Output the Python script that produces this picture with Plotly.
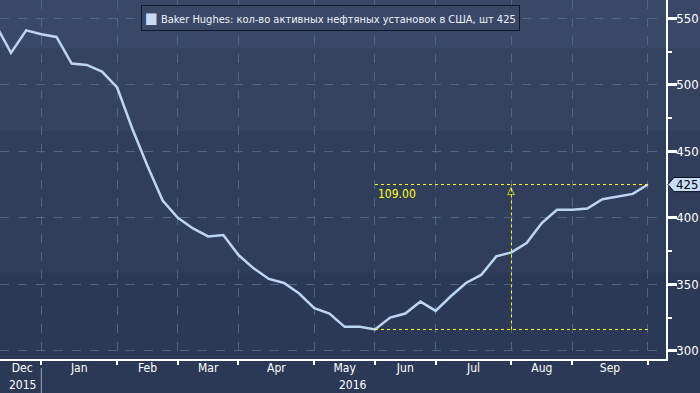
import plotly.graph_objects as go

# Weekly Baker Hughes US oil rig count
weeks = ["2015-12-04", "2015-12-11", "2015-12-18", "2015-12-23", "2015-12-31",
         "2016-01-08", "2016-01-15", "2016-01-22", "2016-01-29",
         "2016-02-05", "2016-02-12", "2016-02-19", "2016-02-26",
         "2016-03-04", "2016-03-11", "2016-03-18", "2016-03-24",
         "2016-04-01", "2016-04-08", "2016-04-15", "2016-04-22", "2016-04-29",
         "2016-05-06", "2016-05-13", "2016-05-20", "2016-05-27",
         "2016-06-03", "2016-06-10", "2016-06-17", "2016-06-24",
         "2016-07-01", "2016-07-08", "2016-07-15", "2016-07-22", "2016-07-29",
         "2016-08-05", "2016-08-12", "2016-08-19", "2016-08-26",
         "2016-09-02", "2016-09-09", "2016-09-16", "2016-09-23", "2016-09-30"]
rigs = [545, 524, 541, 538, 536,
        516, 515, 510, 498,
        467, 439, 413, 400,
        392, 386, 387, 372,
        362, 354, 351, 343, 332,
        328, 318, 318, 316,
        325, 328, 337, 330,
        341, 351, 357, 371, 374,
        381, 396, 406, 406,
        407, 414, 416, 418, 425]

month_labels = ["Dec", "Jan", "Feb", "Mar", "Apr", "May", "Jun", "Jul", "Aug", "Sep"]
month_bounds = [3, 8, 12, 16, 21, 25, 29, 34, 38, 43]   # week index of month boundaries
year_labels = ["2015", "2016"]
y_ticks = [300, 350, 400, 450, 500, 550]

series_name = "Baker Hughes: кол-во активных нефтяных установок в США, шт"

x = list(range(len(weeks)))
x_range = [0.275, 44.19]
mids = [(x_range[0] + month_bounds[0]) / 2 + 0.1] + \
       [(month_bounds[i] + month_bounds[i + 1]) / 2 for i in range(len(month_bounds) - 1)]

last_val = rigs[-1]
min_i = rigs.index(min(rigs[8:]), 8)
min_val = rigs[min_i]
last_i = len(rigs) - 1
measure_i = 34

BG_BOTTOM = "#2c3956"
GRID = "#4d6781"
LINE = "#bcd6f2"
YEL = "#ffff1e"
TAG = "#c5dcf5"
FONT = "DejaVu Sans Condensed, Liberation Sans Narrow, sans-serif"

fig = go.Figure()
fig.add_trace(go.Scatter(x=x, y=rigs, mode="lines",
                         line=dict(color=LINE, width=2.5), showlegend=False,
                         hoverinfo="skip"))

shapes = []
# background bands
bands = [(0.866, 1.01, "#3a4867"), (0.635, 0.866, "#36435f"), (0.240, 0.635, "#313e5b")]
for y0, y1, c in bands:
    shapes.append(dict(type="rect", xref="paper", yref="paper", x0=-0.01, x1=1.1,
                       y0=y0, y1=y1, fillcolor=c, line_width=0, layer="below"))
# measurement lines
shapes.append(dict(type="line", xref="x", yref="y", x0=min_i, x1=last_i, y0=last_val, y1=last_val,
                   line=dict(color=YEL, width=1, dash="dot")))
shapes.append(dict(type="line", xref="x", yref="y", x0=min_i, x1=last_i, y0=min_val, y1=min_val,
                   line=dict(color=YEL, width=1, dash="dot")))
shapes.append(dict(type="line", xref="x", yref="y", x0=measure_i, x1=measure_i, y0=min_val, y1=last_val,
                   line=dict(color=YEL, width=1, dash="dot")))
# year separator
shapes.append(dict(type="line", xref="x", yref="paper", x0=month_bounds[0], x1=month_bounds[0],
                   y0=-0.025, y1=-0.1, line=dict(color="#9aa6b8", width=1)))
# last-value tag (pointer shape)
h = 5.3
shapes.append(dict(type="path", xref="paper", yref="y",
                   path=f"M 1.003 {last_val} L 1.012 {last_val + h} L 1.06 {last_val + h} "
                        f"L 1.06 {last_val - h} L 1.012 {last_val - h} Z",
                   fillcolor=TAG, line=dict(color="#0b1220", width=1)))

annotations = [
    dict(xref="paper", yref="paper", x=0.2117, y=0.986, xanchor="left", yanchor="top",
         text='<span style="color:#c6dcf7;font-size:15px">■</span> ' + series_name + " " + str(last_val),
         showarrow=False, font=dict(family=FONT, size=11, color="#eef2f8"),
         bgcolor="#3a4867", bordercolor="#11192b", borderwidth=1, borderpad=3),
    dict(xref="x", yref="y", x=min_i, y=last_val, xanchor="left", yanchor="top", xshift=1,
         text="%.2f" % (last_val - min_val), showarrow=False,
         font=dict(family=FONT, size=12, color=YEL)),
    dict(xref="x", yref="y", x=measure_i, y=last_val, xanchor="center", yanchor="top", yshift=2,
         text="△", showarrow=False, font=dict(family="DejaVu Sans", size=10, color=YEL)),
    dict(xref="paper", yref="y", x=1.031, y=last_val, xanchor="center", yanchor="middle",
         text=str(last_val), showarrow=False, font=dict(family=FONT, size=13, color="#000000")),
    dict(xref="x", yref="paper", x=mids[0], y=-0.072, text=year_labels[0], showarrow=False,
         font=dict(family=FONT, size=12, color="#ffffff"), yanchor="middle"),
    dict(xref="x", yref="paper", x=23.55, y=-0.072, text=year_labels[1], showarrow=False,
         font=dict(family=FONT, size=12, color="#ffffff"), yanchor="middle"),
]

fig.update_layout(
    width=700, height=393,
    margin=dict(l=0, r=34, t=0, b=34),
    paper_bgcolor=BG_BOTTOM, plot_bgcolor="rgba(0,0,0,0)",
    shapes=shapes, annotations=annotations,
    font=dict(family=FONT, size=12, color="#ffffff"),
    xaxis=dict(range=x_range, tickmode="array", tickvals=mids, ticktext=month_labels,
               ticks="", showgrid=False, zeroline=False, showline=True, linecolor="#ffffff",
               linewidth=1.5, ticklabelstandoff=-3,
               minor=dict(tickmode="array", tickvals=month_bounds, ticks="outside", ticklen=4,
                          tickcolor="#ffffff", tickwidth=1.5, showgrid=True, gridcolor=GRID,
                          griddash="dash", gridwidth=1),
               tickfont=dict(family=FONT, size=12, color="#ffffff")),
    yaxis=dict(side="right", range=[293.8, 563.8], tickmode="array", tickvals=y_ticks,
               ticks="outside", ticklen=9, tickwidth=3, tickcolor="#ffffff",
               ticklabelstandoff=-3,
               showgrid=True, gridcolor=GRID, griddash="dash", gridwidth=1,
               zeroline=False, showline=True, linecolor="#ffffff", linewidth=1.5,
               minor=dict(dtick=25, tick0=300, ticks="outside", ticklen=4, tickcolor="#ffffff",
                          tickwidth=1.5, showgrid=False),
               tickfont=dict(family=FONT, size=13, color="#ffffff")),
)

fig.write_html("out.html", config={"displayModeBar": False},
               post_script="document.body.style.margin='0px';")
